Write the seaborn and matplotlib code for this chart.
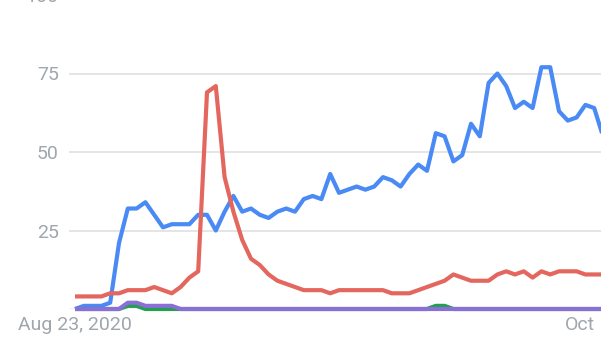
import matplotlib
matplotlib.use("Agg")
import matplotlib.pyplot as plt
import seaborn as sns
import pandas as pd
import numpy as np

# ---- data ----
series_names = ["Term A", "Term B", "Term C", "Term D"]
blue = [0, 1, 1, 1, 2, 21, 32, 32, 34, 30, 26, 27, 27, 27, 30, 30, 25, 31, 36, 31,
        32, 30, 29, 31, 32, 31, 35, 36, 35, 43, 37, 38, 39, 38, 39, 42, 41, 39, 43, 46,
        44, 56, 55, 47, 49, 59, 55, 72, 75, 71, 64, 66, 64, 77, 77, 63, 60, 61, 65, 64, 55]
red = [4, 4, 4, 4, 5, 5, 6, 6, 6, 7, 6, 5, 7, 10, 12, 69, 71, 42, 31, 22,
       16, 14, 11, 9, 8, 7, 6, 6, 6, 5, 6, 6, 6, 6, 6, 6, 5, 5, 5, 6,
       7, 8, 9, 11, 10, 9, 9, 9, 11, 12, 11, 12, 10, 12, 11, 12, 12, 12, 11, 11, 11]
green = [0, 0, 0, 0, 0, 0, 1, 1, 0, 0, 0, 0, 0, 0, 0, 0, 0, 0, 0, 0,
         0, 0, 0, 0, 0, 0, 0, 0, 0, 0, 0, 0, 0, 0, 0, 0, 0, 0, 0, 0,
         0, 1, 1, 0, 0, 0, 0, 0, 0, 0, 0, 0, 0, 0, 0, 0, 0, 0, 0, 0, 0]
purple = [0, 0, 0, 0, 0, 0, 2, 2, 1, 1, 1, 1, 0, 0, 0, 0, 0, 0, 0, 0,
          0, 0, 0, 0, 0, 0, 0, 0, 0, 0, 0, 0, 0, 0, 0, 0, 0, 0, 0, 0,
          0, 0, 0, 0, 0, 0, 0, 0, 0, 0, 0, 0, 0, 0, 0, 0, 0, 0, 0, 0, 0]
y_ticks = [25, 50, 75, 100]
x_tick_pos = [0, 57.4]
x_tick_labels = ["Aug 23, 2020", "Oct"]

colors = ["#4a8af4", "#e3675f", "#22a04f", "#8a6fd6"]

# ---- long-form table ----
rows = []
for name, vals in zip(series_names, [blue, red, green, purple]):
    for i, v in enumerate(vals):
        rows.append({"idx": i, "value": v, "series": name})
df = pd.DataFrame(rows)

sns.set_style("white")
plt.rcParams["font.family"] = ["Roboto", "DejaVu Sans"]

fig = plt.figure(figsize=(6.01, 3.48), dpi=100)
W, H = 601, 348
left_px, base_px, top_px = 69, 309, -10
ax = fig.add_axes([left_px / W, (H - base_px) / H, (W - left_px) / W, (base_px - top_px) / H])

px_per_pt = 8.8
px_per_unit = 3.14
ax.set_xlim((left_px - 75) / px_per_pt, (W - 75) / px_per_pt)
ax.set_ylim(0, (base_px - top_px) / px_per_unit)

for yv in y_ticks:
    ax.axhline(yv, color="#e0e0e0", lw=1.2, zorder=0)
ax.axhline(0, color="#bdbdbd", lw=1.0, zorder=0)

sns.lineplot(data=df, x="idx", y="value", hue="series", hue_order=series_names,
             palette=colors, linewidth=3.0, legend=False, ax=ax)
for ln in ax.lines:
    if len(ln.get_xdata()) > 2:
        ln.set_clip_on(False)
        ln.set_solid_joinstyle("round")
        ln.set_solid_capstyle("butt")

for s in ax.spines.values():
    s.set_visible(False)

ax.set_yticks(y_ticks)
ax.set_yticklabels([str(v) for v in y_ticks])
ax.set_xticks(x_tick_pos)
ax.set_xticklabels(x_tick_labels)
ax.tick_params(axis="y", length=0, pad=7.4, labelsize=14, labelcolor="#a0a6ad")
ax.tick_params(axis="x", length=0, pad=5, labelsize=14, labelcolor="#a0a6ad")
ax.set_xlabel("")
ax.set_ylabel("")
ax.grid(False)

fig.savefig("out.png", dpi=100)
